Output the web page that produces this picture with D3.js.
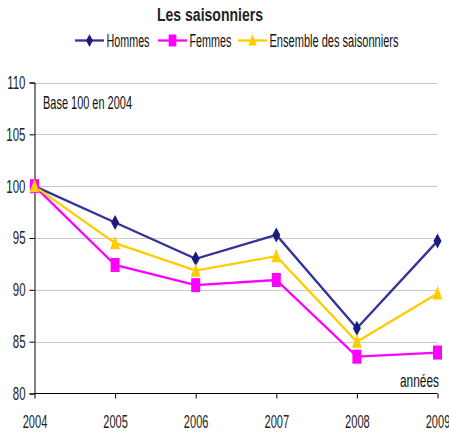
<!DOCTYPE html>
<html><head><meta charset="utf-8">
<script src="https://cdn.jsdelivr.net/npm/d3@7"></script>
<style>
body{margin:0;background:#fff;}
text{font-family:"Liberation Sans",Arial,sans-serif;}
</style></head>
<body><svg id="c" width="449" height="437"></svg>
<script>
const years = [2004, 2005, 2006, 2007, 2008, 2009];
const hommes = [100, 96.5, 93.0, 95.3, 86.3, 94.7];
const femmes = [100, 92.4, 90.45, 90.95, 83.55, 83.95];
const ensemble = [100, 94.5, 91.85, 93.25, 85.0, 89.65];
const yTicks = [80, 85, 90, 95, 100, 105, 110];
const seriesNames = ["Hommes", "Femmes", "Ensemble des saisonniers"];

const svg = d3.select("#c");
const x = d3.scalePoint().domain(years).range([34.5, 437.5]);
const y = d3.scaleLinear().domain([80, 110]).range([393.5, 82.5]);

function squeeze(sel, k) {
  sel.each(function() {
    const w = this.getComputedTextLength();
    d3.select(this).attr("textLength", w * k).attr("lengthAdjust", "spacingAndGlyphs");
  });
}
function fitTo(sel, w) {
  sel.attr("textLength", w).attr("lengthAdjust", "spacingAndGlyphs");
}

// grid
svg.append("g").selectAll("line").data(yTicks.filter(d => d > 80)).join("line")
  .attr("x1", 34.5).attr("x2", 437.5)
  .attr("y1", d => Math.round(y(d)) + 0.5).attr("y2", d => Math.round(y(d)) + 0.5)
  .attr("stroke", "#c8c8c8").attr("stroke-width", 1);

// y axis
const ya = svg.append("g").attr("transform", "translate(34.5,0)")
  .call(d3.axisLeft(y).tickValues(yTicks).tickSize(5).tickPadding(4));
ya.select(".domain").attr("stroke", "#000");
ya.selectAll(".tick line").attr("stroke", "#000");
ya.selectAll("text").attr("font-size", 18.5).attr("fill", "#222")
  .attr("font-family", "'Liberation Sans', Arial, sans-serif").call(squeeze, 0.62);

// x axis
const xa = svg.append("g").attr("transform", "translate(0,393.5)")
  .call(d3.axisBottom(x).tickSize(5).tickPadding(16).tickFormat(d3.format("d")));
xa.select(".domain").attr("stroke", "#000").attr("d", "M34.5,0H437.5");
xa.selectAll(".tick line").attr("stroke", "#000");
xa.selectAll("text").attr("font-size", 18.5).attr("fill", "#222")
  .attr("font-family", "'Liberation Sans', Arial, sans-serif").call(squeeze, 0.6);

// texts
svg.append("text").attr("x", 43).attr("y", 109).attr("font-size", 19).attr("fill", "#111")
  .text("Base 100 en 2004").call(fitTo, 89);
svg.append("text").attr("x", 400).attr("y", 387).attr("font-size", 19).attr("fill", "#111")
  .text("années").call(fitTo, 39);

const series = [
  {name: seriesNames[0], vals: hommes, color: "#333399", mcolor: "#1c1c78", shape: "diamond"},
  {name: seriesNames[1], vals: femmes, color: "#ff00ff", mcolor: "#ff00ff", shape: "square"},
  {name: seriesNames[2], vals: ensemble, color: "#ffcc00", mcolor: "#ffcc00", shape: "triangle"}
];

function marker(g, shape, color, s) {
  s = s || 1;
  if (shape === "diamond") g.append("path").attr("d", `M0,${-7.5*s}L${4*s},0L0,${7.5*s}L${-4*s},0Z`).attr("fill", color);
  else if (shape === "square") g.append("rect").attr("x", -4.5*s).attr("y", -7*s).attr("width", 9*s).attr("height", 14*s).attr("fill", color);
  else g.append("path").attr("d", `M0,${-7.5*s}L${5*s},${6*s}L${-5*s},${6*s}Z`).attr("fill", color);
}

const line = d3.line().x((d, i) => x(years[i])).y(d => y(d));
series.forEach(s => {
  svg.append("path").attr("d", line(s.vals)).attr("fill", "none")
    .attr("stroke", s.color).attr("stroke-width", 2.3);
});
series.forEach(s => {
  s.vals.forEach((v, i) => {
    const g = svg.append("g").attr("transform", `translate(${x(years[i])},${y(v)})`);
    marker(g, s.shape, s.mcolor);
  });
});

// title
svg.append("text").attr("x", 157).attr("y", 21)
  .attr("font-size", 17.5).attr("font-weight", "bold").attr("fill", "#222")
  .text("Les saisonniers").call(fitTo, 106);

// legend
const legX = [75, 158, 238];
const legW = [43, 42, 129];
series.forEach((s, i) => {
  const g = svg.append("g").attr("transform", `translate(${legX[i]},40.5)`);
  g.append("line").attr("x1", 0).attr("x2", 29).attr("stroke", s.color).attr("stroke-width", 2.3);
  const mg = g.append("g").attr("transform", "translate(14.5,0)");
  marker(mg, s.shape, s.mcolor, 0.85);
  g.append("text").attr("x", 31.5).attr("y", 6.3).attr("font-size", 17.5).attr("fill", "#111")
    .text(s.name).call(fitTo, legW[i]);
});
</script></body></html>
